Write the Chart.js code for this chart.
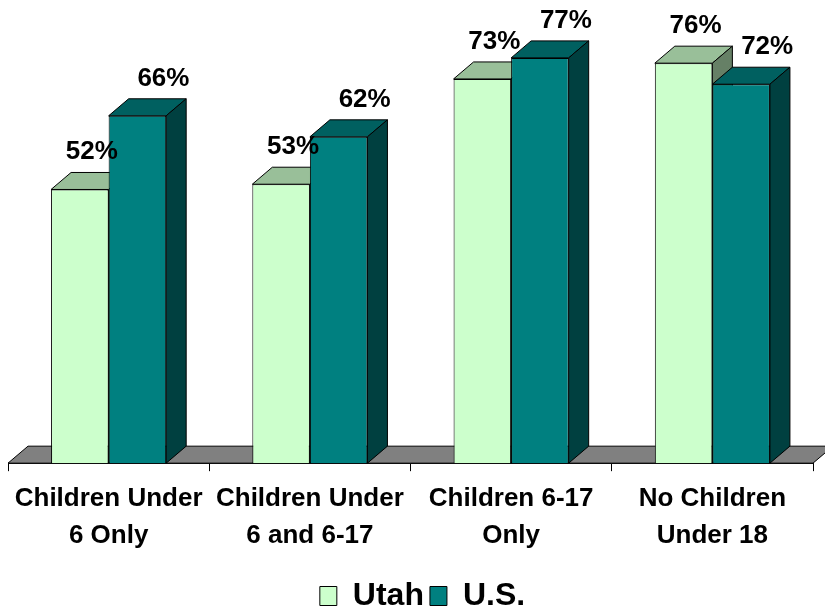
<!DOCTYPE html>
<html>
<head>
<meta charset="utf-8">
<script src="https://cdn.jsdelivr.net/npm/chart.js@4"></script>
<style>
html, body { margin: 0; padding: 0; background: #fff; }
#wrap { width: 825px; height: 614px; }
</style>
</head>
<body>
<div id="wrap"><canvas id="chart"></canvas></div>
<script>
// Data
const categories = [
    ['Children Under', '6 Only'],
    ['Children Under', '6 and 6-17'],
    ['Children 6-17', 'Only'],
    ['No Children', 'Under 18']
];
const utahValues = [52, 53, 73, 76];
const usValues = [66, 62, 77, 72];
const seriesNames = ['Utah', 'U.S.'];

// 3D look
const DX = 20, DY = 17;
const faceColors = [
    { front: '#CCFFCC', top: '#99BF99', side: '#668066' },
    { front: '#008080', top: '#006060', side: '#004040' }
];
const labelShift = [12, 26];

function poly(ctx, pts, fill) {
    ctx.beginPath();
    ctx.moveTo(pts[0][0], pts[0][1]);
    for (let i = 1; i < pts.length; i++) ctx.lineTo(pts[i][0], pts[i][1]);
    ctx.closePath();
    ctx.fillStyle = fill;
    ctx.fill();
    ctx.stroke();
}

const depthPlugin = {
    id: 'depth',
    afterUpdate(chart) {
        // legend sits a bit right of centre in the original
        chart.legend.left += 12;
        chart.legend.right += 12;
    },
    beforeDatasetsDraw(chart) {
        const ctx = chart.ctx;
        const xs = chart.scales.x;
        const floor = chart.scales.y.getPixelForValue(0);
        ctx.save();
        ctx.lineWidth = 1;
        ctx.strokeStyle = '#000';
        // floor
        poly(ctx, [[xs.left, floor], [xs.right, floor], [xs.right + DX, floor - DY], [xs.left + DX, floor - DY]], '#808080');
        // tops and sides, fronts come from chart.js afterwards
        chart.data.datasets.forEach((ds, i) => {
            const c = faceColors[i];
            chart.getDatasetMeta(i).data.forEach(bar => {
                const l = bar.x - bar.width / 2, r = bar.x + bar.width / 2;
                const t = bar.y, b = bar.base;
                poly(ctx, [[l, t], [r, t], [r + DX, t - DY], [l + DX, t - DY]], c.top);
                poly(ctx, [[r, t], [r + DX, t - DY], [r + DX, b - DY], [r, b]], c.side);
            });
        });
        ctx.restore();
    },
    afterDatasetsDraw(chart) {
        const ctx = chart.ctx;
        ctx.save();
        ctx.font = 'bold 26px "Liberation Sans"';
        ctx.fillStyle = '#000';
        ctx.textAlign = 'center';
        ctx.textBaseline = 'alphabetic';
        chart.data.datasets.forEach((ds, i) => {
            chart.getDatasetMeta(i).data.forEach((bar, j) => {
                ctx.fillText(ds.data[j] + '%', bar.x + labelShift[i], bar.y - 30);
            });
        });
        ctx.restore();
    }
};

const chart = new Chart(document.getElementById('chart'), {
    type: 'bar',
    data: {
        labels: categories,
        datasets: [
            {
                label: seriesNames[0],
                data: utahValues,
                backgroundColor: faceColors[0].front,
                borderColor: '#000',
                borderWidth: 1,
                categoryPercentage: 0.572,
                barPercentage: 1
            },
            {
                label: seriesNames[1],
                data: usValues,
                backgroundColor: faceColors[1].front,
                borderColor: '#000',
                borderWidth: 1,
                categoryPercentage: 0.572,
                barPercentage: 1
            }
        ]
    },
    options: {
        responsive: true,
        maintainAspectRatio: false,
        animation: false,
        layout: { padding: { left: 8, right: 12, top: 0, bottom: -8 } },
        plugins: {
            legend: {
                position: 'bottom',
                labels: {
                    font: { family: 'Liberation Sans', weight: 'bold', size: 32 },
                    color: '#000',
                    boxWidth: 17,
                    boxHeight: 19,
                    padding: 6
                }
            },
            tooltip: { enabled: false }
        },
        scales: {
            x: {
                grid: { offset: true, drawOnChartArea: false, color: '#000', tickLength: 8 },
                border: { display: true, color: '#000' },
                ticks: {
                    font: { family: 'Liberation Sans', weight: 'bold', size: 26, lineHeight: 1.42 },
                    color: '#000',
                    maxRotation: 0,
                    autoSkip: false,
                    padding: 9
                },
                afterFit(scale) {
                    scale.height += 11;
                }
            },
            y: { display: false, min: 0, max: 88 }
        }
    },
    plugins: [depthPlugin]
});
</script>
</body>
</html>
